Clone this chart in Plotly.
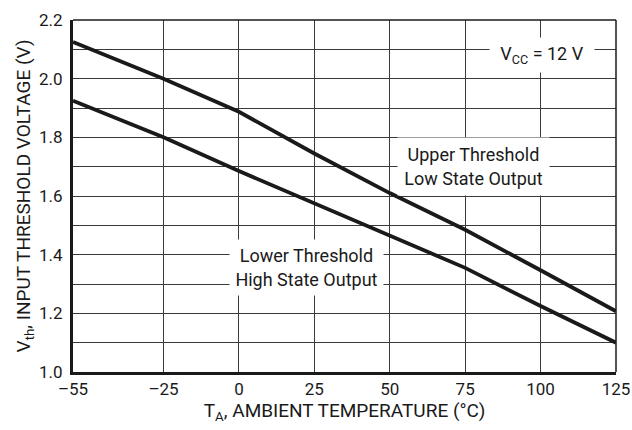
import plotly.graph_objects as go

temps = [-55, -25, 0, 25, 50, 75, 100, 125]
upper_vth = [2.125, 2.0, 1.887, 1.745, 1.61, 1.485, 1.347, 1.207]
lower_vth = [1.925, 1.80, 1.685, 1.576, 1.467, 1.355, 1.225, 1.10]

x_ticks = [-55, -25, 0, 25, 50, 75, 100, 125]
x_ticktext = ["\u201355", "\u201325", "0", "25", "50", "75", "100", "125"]
y_ticks = [1.0, 1.2, 1.4, 1.6, 1.8, 2.0, 2.2]
y_ticktext = ["1.0", "1.2", "1.4", "1.6", "1.8", "2.0", "2.2"]

FONT = "Roboto, Liberation Sans, sans-serif"
INK = "#1a1a1a"
GRID = "#3a3a3a"

fig = go.Figure()
fig.add_trace(go.Scatter(x=temps, y=upper_vth, mode="lines",
                         line=dict(color=INK, width=3.8), showlegend=False))
fig.add_trace(go.Scatter(x=temps, y=lower_vth, mode="lines",
                         line=dict(color=INK, width=3.8), showlegend=False))

fig.add_annotation(x=77.8, y=1.70, xref="x", yref="y",
                   text="Upper Threshold<br>Low State Output",
                   showarrow=False, bgcolor="white", width=149, height=55,
                   font=dict(family=FONT, size=18, color=INK))
fig.add_annotation(x=22.4, y=1.356, xref="x", yref="y",
                   text="Lower Threshold<br>High State Output",
                   showarrow=False, bgcolor="white", width=151, height=53,
                   font=dict(family=FONT, size=18, color=INK))
fig.add_annotation(x=100.5, y=2.082, xref="x", yref="y",
                   text="V<sub>CC</sub> = 12 V",
                   showarrow=False, bgcolor="white", width=102, height=32,
                   font=dict(family=FONT, size=18, color=INK))

# thin top and right frame lines
fig.add_shape(type="line", xref="x domain", yref="y domain", x0=1, x1=1, y0=0, y1=1,
              line=dict(color=INK, width=1.5))
fig.add_shape(type="line", xref="x domain", yref="y domain", x0=0, x1=1, y0=1, y1=1,
              line=dict(color=INK, width=1.5))

fig.update_xaxes(range=[-55, 125], tickmode="array", tickvals=x_ticks, ticktext=x_ticktext,
                 showgrid=True, gridcolor=GRID, gridwidth=1.3, automargin=False,
                 showline=True, linecolor=INK, linewidth=3, mirror=False,
                 ticks="", zeroline=False, ticklabeloverflow="allow",
                 tickfont=dict(family=FONT, size=17, color=INK),
                 title=dict(text="T<sub>A</sub>, AMBIENT TEMPERATURE (\u00b0C)",
                            font=dict(family=FONT, size=19, color=INK), standoff=6))
fig.update_yaxes(range=[1.0, 2.2], tickmode="array", tickvals=y_ticks, ticktext=y_ticktext,
                 showgrid=True, gridcolor=GRID, gridwidth=1.3, automargin=False,
                 minor=dict(dtick=0.1, tick0=1.0, showgrid=True, gridcolor=GRID, gridwidth=1.3),
                 showline=True, linecolor=INK, linewidth=3, mirror=False,
                 ticks="", zeroline=False, ticklabelstandoff=4,
                 tickfont=dict(family=FONT, size=17, color=INK),
                 title=dict(text="V<sub>th</sub>, INPUT THRESHOLD VOLTAGE (V)",
                            font=dict(family=FONT, size=19, color=INK), standoff=4))

fig.update_layout(width=632, height=430,
                  margin=dict(l=73, r=16, t=20, b=58),
                  plot_bgcolor="white", paper_bgcolor="white")

fig.write_html("out.html", config={"displayModeBar": False},
               post_script="document.body.style.margin='0';document.body.style.overflow='hidden';")
